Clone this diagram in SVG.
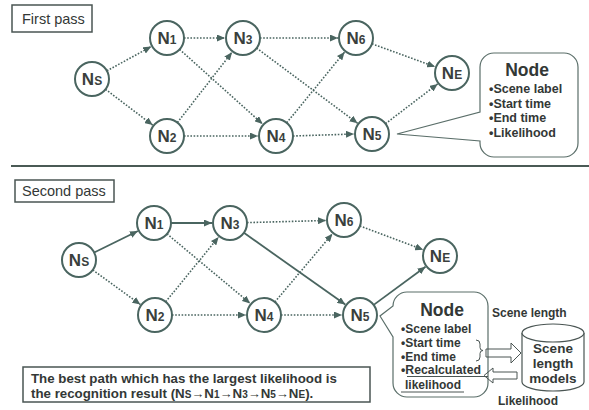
<svg xmlns="http://www.w3.org/2000/svg" width="589" height="410" viewBox="0 0 589 410">
<style>
  text { font-family: "Liberation Sans", Arial, sans-serif; fill: #333836; }
  .b { font-weight: bold; }
  .node circle { fill: #ffffff; stroke: #4a6560; stroke-width: 2; }
  .nl { font-weight: bold; font-size: 17px; text-anchor: middle; fill: #3a3f3d; }
  .sub { font-size: 12px; }
  .dot { stroke: #4a6560; stroke-width: 1.6; stroke-dasharray: 1.6 1.6; fill: none; marker-end: url(#ah); }
  .sol { stroke: #4a6560; stroke-width: 1.8; fill: none; marker-end: url(#ah); }
  .frame { fill: #ffffff; stroke: #4a5553; stroke-width: 1.5; }
  .call { fill: #ffffff; stroke: #5a6e69; stroke-width: 1.2; }
  .thin { fill: none; stroke: #4a5553; stroke-width: 1; }
</style>
<defs>
  <marker id="ah" markerUnits="userSpaceOnUse" markerWidth="8" markerHeight="7" refX="8" refY="3.5" orient="auto">
    <path d="M0,0 L8,3.5 L0,7 z" fill="#4a6560"/>
  </marker>
</defs>
<rect width="589" height="410" fill="#ffffff"/>

<!-- separator -->
<line x1="11" y1="166" x2="589" y2="166" stroke="#4a5a55" stroke-width="2"/>

<!-- FIRST PASS -->
<g id="label-first">
  <rect class="frame" x="12" y="5" width="80" height="27"/>
  <text x="22" y="24" font-size="14.5">First pass</text>
</g>

<g id="edges-first">
  <line class="dot" x1="106.9" y1="70.8" x2="151.2" y2="46.6"/>
  <line class="dot" x1="105.5" y1="89.3" x2="152.7" y2="125.1"/>
  <line class="dot" x1="184" y1="38" x2="225" y2="38"/>
  <line class="dot" x1="179.6" y1="49.4" x2="262.6" y2="124"/>
  <line class="dot" x1="177.4" y1="122.6" x2="232" y2="52.2"/>
  <line class="dot" x1="184" y1="136" x2="258" y2="136"/>
  <line class="dot" x1="260" y1="38" x2="338" y2="38"/>
  <line class="dot" x1="256.6" y1="48.1" x2="357.6" y2="123.3"/>
  <line class="dot" x1="286.7" y1="122.8" x2="344.6" y2="52"/>
  <line class="dot" x1="293" y1="136" x2="354" y2="134"/>
  <line class="dot" x1="372" y1="43.8" x2="435.1" y2="66.8"/>
  <line class="dot" x1="385.5" y1="123.7" x2="437.7" y2="83.9"/>
</g>

<g id="f-NS" class="node"><circle cx="92" cy="79" r="17"/><text class="nl" x="92" y="85">N<tspan class="sub">S</tspan></text></g>
<g id="f-N1" class="node"><circle cx="167" cy="38" r="17"/><text class="nl" x="167" y="44">N<tspan class="sub">1</tspan></text></g>
<g id="f-N2" class="node"><circle cx="167" cy="136" r="17"/><text class="nl" x="167" y="142">N<tspan class="sub">2</tspan></text></g>
<g id="f-N3" class="node"><circle cx="243" cy="38" r="17"/><text class="nl" x="243" y="44">N<tspan class="sub">3</tspan></text></g>
<g id="f-N4" class="node"><circle cx="276" cy="136" r="17"/><text class="nl" x="276" y="142">N<tspan class="sub">4</tspan></text></g>
<g id="f-N6" class="node"><circle cx="356" cy="38" r="17"/><text class="nl" x="356" y="44">N<tspan class="sub">6</tspan></text></g>
<g id="f-N5" class="node"><circle cx="372" cy="134" r="17"/><text class="nl" x="372" y="140">N<tspan class="sub">5</tspan></text></g>
<g id="f-NE" class="node"><circle cx="452" cy="73" r="17"/><text class="nl" x="452" y="79">N<tspan class="sub">E</tspan></text></g>

<g id="f-callout">
  <path class="call" d="M494,53 H564 A14,14 0 0 1 578,67 V143 A14,14 0 0 1 564,157 H494 A14,14 0 0 1 480,143 V141 L397,134 L480,112 V67 A14,14 0 0 1 494,53 Z"/>
  <text class="b" x="527" y="76" font-size="17.5" text-anchor="middle">Node</text>
  <text class="b" x="489" y="93" font-size="12.5">•Scene label</text>
  <text class="b" x="489" y="108" font-size="12.5">•Start time</text>
  <text class="b" x="489" y="122" font-size="12.5">•End time</text>
  <text class="b" x="489" y="137" font-size="12.5">•Likelihood</text>
</g>

<!-- SECOND PASS -->
<g id="label-second">
  <rect class="frame" x="15" y="180" width="99" height="22"/>
  <text x="22" y="196" font-size="14.5">Second pass</text>
</g>

<g id="edges-second">
  <line class="sol" x1="94.2" y1="252.5" x2="137.9" y2="231"/>
  <line class="dot" x1="92.8" y1="270" x2="140.4" y2="304.5"/>
  <line class="sol" x1="171" y1="223" x2="212" y2="223"/>
  <line class="dot" x1="167" y1="233.9" x2="250.2" y2="303.4"/>
  <line class="dot" x1="165.7" y1="301.8" x2="218.6" y2="237"/>
  <line class="dot" x1="172" y1="315" x2="246" y2="315"/>
  <line class="dot" x1="247" y1="222.6" x2="326" y2="220.5"/>
  <line class="sol" x1="243.9" y1="232.8" x2="345.3" y2="304.6"/>
  <line class="dot" x1="274.9" y1="302" x2="332.4" y2="233.8"/>
  <line class="dot" x1="281" y1="315" x2="342" y2="315"/>
  <line class="dot" x1="359.9" y1="226" x2="423.2" y2="249.7"/>
  <line class="sol" x1="373.7" y1="304.9" x2="425.5" y2="266.7"/>
</g>

<g id="s-NS" class="node"><circle cx="79" cy="260" r="17"/><text class="nl" x="79" y="266">N<tspan class="sub">S</tspan></text></g>
<g id="s-N1" class="node"><circle cx="154" cy="223" r="17"/><text class="nl" x="154" y="229">N<tspan class="sub">1</tspan></text></g>
<g id="s-N2" class="node"><circle cx="155" cy="315" r="17"/><text class="nl" x="155" y="321">N<tspan class="sub">2</tspan></text></g>
<g id="s-N3" class="node"><circle cx="230" cy="223" r="17"/><text class="nl" x="230" y="229">N<tspan class="sub">3</tspan></text></g>
<g id="s-N4" class="node"><circle cx="264" cy="315" r="17"/><text class="nl" x="264" y="321">N<tspan class="sub">4</tspan></text></g>
<g id="s-N6" class="node"><circle cx="344" cy="220" r="17"/><text class="nl" x="344" y="226">N<tspan class="sub">6</tspan></text></g>
<g id="s-N5" class="node"><circle cx="360" cy="315" r="17"/><text class="nl" x="360" y="321">N<tspan class="sub">5</tspan></text></g>
<g id="s-NE" class="node"><circle cx="440" cy="256" r="17"/><text class="nl" x="440" y="262">N<tspan class="sub">E</tspan></text></g>

<g id="s-callout">
  <path class="call" d="M407,292 H474 A14,14 0 0 1 488,306 V383 A14,14 0 0 1 474,397 H407 A14,14 0 0 1 393,383 V337 L380,316 L393,306 A14,14 0 0 1 407,292 Z"/>
  <text class="b" x="442" y="316" font-size="17.5" text-anchor="middle">Node</text>
  <text class="b" x="401" y="333" font-size="12">•Scene label</text>
  <text class="b" x="401" y="347" font-size="12">•Start time</text>
  <text class="b" x="401" y="361" font-size="12">•End time</text>
  <text class="b" x="401" y="374" font-size="12" textLength="80" lengthAdjust="spacingAndGlyphs">•Recalculated</text>
  <line class="thin" x1="407" y1="376.5" x2="488" y2="376.5"/>
  <text class="b" x="405" y="389" font-size="12">likelihood</text>
  <line class="thin" x1="401" y1="392" x2="464" y2="392"/>
  <path class="thin" d="M476,340 q4,0 4,4 v3.5 q0,3 3,3 q-3,0 -3,3 v3.5 q0,4 -4,4"/>
</g>

<g id="arrow-right">
  <polygon class="thin" points="486,349 511,349 511,343 521,353 511,363 511,357 486,357" fill="#ffffff"/>
</g>
<g id="arrow-left">
  <polygon class="thin" points="517,372 493,372 493,368 484,375.5 493,383 493,379 517,379" fill="#ffffff"/>
</g>

<g id="models">
  <path d="M522,333 V382 A31,9 0 0 0 584,382 V333" fill="#ffffff" stroke="#4a5553" stroke-width="1.2"/>
  <ellipse cx="553" cy="333" rx="31" ry="9" fill="#ffffff" stroke="#4a5553" stroke-width="1.2"/>
  <text class="b" x="553" y="353" font-size="13.5" text-anchor="middle">Scene</text>
  <text class="b" x="553" y="368" font-size="13.5" text-anchor="middle">length</text>
  <text class="b" x="553" y="383" font-size="13.5" text-anchor="middle">models</text>
</g>

<text class="b" x="492" y="317" font-size="12">Scene length</text>
<text class="b" x="498" y="405" font-size="12">Likelihood</text>

<g id="result">
  <rect class="frame" x="23" y="367" width="347" height="35"/>
  <text class="b" x="31" y="383" font-size="13.3">The best path which has the largest likelihood is</text>
  <text class="b" x="31" y="398" font-size="13.3">the recognition result (N<tspan font-size="10">S</tspan><tspan font-size="13">→</tspan>N<tspan font-size="10">1</tspan><tspan font-size="13">→</tspan>N<tspan font-size="10">3</tspan><tspan font-size="13">→</tspan>N<tspan font-size="10">5</tspan><tspan font-size="13">→</tspan>N<tspan font-size="10">E</tspan>).</text>
</g>
</svg>
